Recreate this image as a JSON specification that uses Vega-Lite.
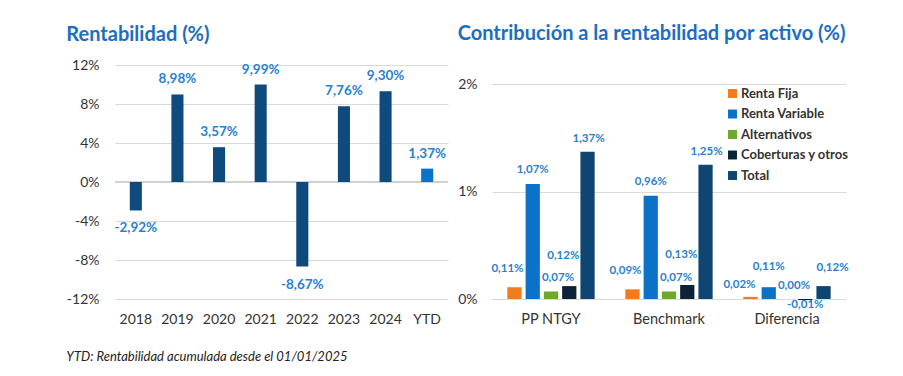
{
  "$schema": "https://vega.github.io/schema/vega-lite/v6.json",
  "background": "white",
  "padding": {"left": 66, "top": 24, "right": 5, "bottom": 5},
  "config": {
    "font": "Lato",
    "view": {"stroke": null},
    "locale": {"number": {"decimal": ",", "thousands": ".", "grouping": [3], "currency": ["", " €"], "minus": "-"}},
    "axis": {"labelFont": "Lato", "labelFontSize": 14, "labelColor": "#333333", "gridColor": "#d9d9d9", "domain": false, "ticks": false, "title": null}
  },
  "resolve": {"scale": {"color": "independent"}, "legend": {"color": "independent"}},
  "title": {
    "text": "YTD: Rentabilidad acumulada desde el 01/01/2025",
    "orient": "bottom", "anchor": "start", "frame": "bounds",
    "fontStyle": "italic", "fontWeight": "normal", "fontSize": 13, "color": "#222222", "offset": 25
  },
  "spacing": 8,
  "hconcat": [
    {
      "width": 333,
      "height": 234,
      "title": {"text": "Rentabilidad (%)", "anchor": "start", "fontSize": 20, "fontWeight": "bold", "color": "#1b6ec2", "offset": 13},
      "data": {"values": [
        {"year": "2018", "value": -0.0292, "tipo": "Anual"},
        {"year": "2019", "value": 0.0898, "tipo": "Anual"},
        {"year": "2020", "value": 0.0357, "tipo": "Anual"},
        {"year": "2021", "value": 0.0999, "tipo": "Anual"},
        {"year": "2022", "value": -0.0867, "tipo": "Anual"},
        {"year": "2023", "value": 0.0776, "tipo": "Anual"},
        {"year": "2024", "value": 0.0930, "tipo": "Anual"},
        {"year": "YTD", "value": 0.0137, "tipo": "YTD"}
      ]},
      "encoding": {
        "x": {"field": "year", "type": "nominal", "sort": null,
              "scale": {"paddingInner": 0.71, "paddingOuter": 0.355},
              "axis": {"labelAngle": 0, "labelPadding": 13}},
        "y": {"field": "value", "type": "quantitative",
              "scale": {"domain": [-0.12, 0.12], "nice": false},
              "axis": {"values": [-0.12, -0.08, -0.04, 0, 0.04, 0.08, 0.12], "format": ".0%", "labelPadding": 16}}
      },
      "layer": [
        {"mark": {"type": "rule", "color": "#d0d0d0"}, "encoding": {"y": {"datum": 0}, "x": {"value": 0}, "x2": {"value": 333}}},
        {"mark": {"type": "bar"},
         "encoding": {"color": {"field": "tipo", "type": "nominal", "scale": {"domain": ["Anual", "YTD"], "range": ["#0f4a7c", "#0b72c7"]}, "legend": null}}},
        {"transform": [{"filter": "datum.value >= 0"}],
         "mark": {"type": "text", "baseline": "middle", "dy": -15, "fontSize": 13.5, "fontWeight": "bold", "color": "#2a7fd0"},
         "encoding": {"text": {"field": "value", "format": ".2%"}}},
        {"transform": [{"filter": "datum.value < 0"}],
         "mark": {"type": "text", "baseline": "middle", "dy": 18, "fontSize": 13.5, "fontWeight": "bold", "color": "#2a7fd0"},
         "encoding": {"text": {"field": "value", "format": ".2%"}}}
      ]
    },
    {
      "width": 354,
      "height": 234,
      "title": {"text": "Contribución a la rentabilidad por activo (%)", "anchor": "start", "fontSize": 20, "fontWeight": "bold", "color": "#1b6ec2", "offset": 21},
      "data": {"values": [
        {"grupo": "PP NTGY", "activo": "Renta Fija", "value": 0.0011},
        {"grupo": "PP NTGY", "activo": "Renta Variable", "value": 0.0107},
        {"grupo": "PP NTGY", "activo": "Alternativos", "value": 0.0007},
        {"grupo": "PP NTGY", "activo": "Coberturas y otros", "value": 0.0012},
        {"grupo": "PP NTGY", "activo": "Total", "value": 0.0137},
        {"grupo": "Benchmark", "activo": "Renta Fija", "value": 0.0009},
        {"grupo": "Benchmark", "activo": "Renta Variable", "value": 0.0096},
        {"grupo": "Benchmark", "activo": "Alternativos", "value": 0.0007},
        {"grupo": "Benchmark", "activo": "Coberturas y otros", "value": 0.0013},
        {"grupo": "Benchmark", "activo": "Total", "value": 0.0125},
        {"grupo": "Diferencia", "activo": "Renta Fija", "value": 0.0002},
        {"grupo": "Diferencia", "activo": "Renta Variable", "value": 0.0011},
        {"grupo": "Diferencia", "activo": "Alternativos", "value": 0.0000},
        {"grupo": "Diferencia", "activo": "Coberturas y otros", "value": -0.0001},
        {"grupo": "Diferencia", "activo": "Total", "value": 0.0012}
      ]},
      "encoding": {
        "x": {"field": "grupo", "type": "nominal", "sort": null,
              "scale": {"paddingInner": 0.26, "paddingOuter": 0.13},
              "axis": {"labelAngle": 0, "labelPadding": 13, "labelFontSize": 14.5}},
        "xOffset": {"field": "activo", "type": "nominal",
                    "sort": ["Renta Fija", "Renta Variable", "Alternativos", "Coberturas y otros", "Total"],
                    "scale": {"paddingInner": 0.22, "paddingOuter": 0}},
        "y": {"field": "value", "type": "quantitative",
              "scale": {"domain": [0, 0.02177], "nice": false},
              "axis": {"values": [0, 0.01, 0.02], "format": ".0%", "labelPadding": 15}}
      },
      "layer": [
        {"mark": {"type": "bar"},
         "encoding": {"color": {"field": "activo", "type": "nominal",
            "sort": ["Renta Fija", "Renta Variable", "Alternativos", "Coberturas y otros", "Total"],
            "scale": {"domain": ["Renta Fija", "Renta Variable", "Alternativos", "Coberturas y otros", "Total"],
                      "range": ["#f47a1f", "#0b72c7", "#6fa92b", "#0c2237", "#0e4573"]},
            "legend": {"orient": "none", "legendX": 234, "legendY": 22, "title": null, "symbolType": "square", "symbolSize": 80,
                       "symbolStrokeWidth": 0, "labelFontSize": 13, "labelFontWeight": "bold", "labelColor": "#333333", "rowPadding": 6.5, "labelOffset": 2}}}},
        {"transform": [{"filter": "datum.activo == 'Renta Fija' && datum.grupo != 'Diferencia'"}],
         "mark": {"type": "text", "baseline": "middle", "dx": -7, "dy": -18, "fontSize": 11.5, "fontWeight": "bold", "color": "#2a7fd0"},
         "encoding": {"text": {"field": "value", "format": ".2%"}}},
        {"transform": [{"filter": "datum.activo == 'Renta Fija' && datum.grupo == 'Diferencia'"}],
         "mark": {"type": "text", "baseline": "middle", "dx": -11, "dy": -12, "fontSize": 11.5, "fontWeight": "bold", "color": "#2a7fd0"},
         "encoding": {"text": {"field": "value", "format": ".2%"}}},
        {"transform": [{"filter": "datum.activo == 'Renta Variable' && datum.grupo != 'Diferencia'"}],
         "mark": {"type": "text", "baseline": "middle", "dx": 0, "dy": -14, "fontSize": 11.5, "fontWeight": "bold", "color": "#2a7fd0"},
         "encoding": {"text": {"field": "value", "format": ".2%"}}},
        {"transform": [{"filter": "datum.activo == 'Renta Variable' && datum.grupo == 'Diferencia'"}],
         "mark": {"type": "text", "baseline": "middle", "dx": 0, "dy": -20, "fontSize": 11.5, "fontWeight": "bold", "color": "#2a7fd0"},
         "encoding": {"text": {"field": "value", "format": ".2%"}}},
        {"transform": [{"filter": "datum.activo == 'Alternativos'"}],
         "mark": {"type": "text", "baseline": "middle", "dx": 7, "dy": -13, "fontSize": 11.5, "fontWeight": "bold", "color": "#2a7fd0"},
         "encoding": {"text": {"field": "value", "format": ".2%"}}},
        {"transform": [{"filter": "datum.activo == 'Coberturas y otros' && datum.grupo != 'Diferencia'"}],
         "mark": {"type": "text", "baseline": "middle", "dx": -6, "dy": -30, "fontSize": 11.5, "fontWeight": "bold", "color": "#2a7fd0"},
         "encoding": {"text": {"field": "value", "format": ".2%"}}},
        {"transform": [{"filter": "datum.activo == 'Coberturas y otros' && datum.grupo == 'Diferencia'"}],
         "mark": {"type": "text", "baseline": "middle", "dx": 0, "dy": 5, "fontSize": 11.5, "fontWeight": "bold", "color": "#2a7fd0"},
         "encoding": {"text": {"field": "value", "format": ".2%"}}},
        {"transform": [{"filter": "datum.activo == 'Total' && datum.grupo != 'Diferencia'"}],
         "mark": {"type": "text", "baseline": "middle", "dx": 1, "dy": -13, "fontSize": 11.5, "fontWeight": "bold", "color": "#2a7fd0"},
         "encoding": {"text": {"field": "value", "format": ".2%"}}},
        {"transform": [{"filter": "datum.activo == 'Total' && datum.grupo == 'Diferencia'"}],
         "mark": {"type": "text", "baseline": "middle", "dx": 9, "dy": -18, "fontSize": 11.5, "fontWeight": "bold", "color": "#2a7fd0"},
         "encoding": {"text": {"field": "value", "format": ".2%"}}}
      ]
    }
  ]
}
